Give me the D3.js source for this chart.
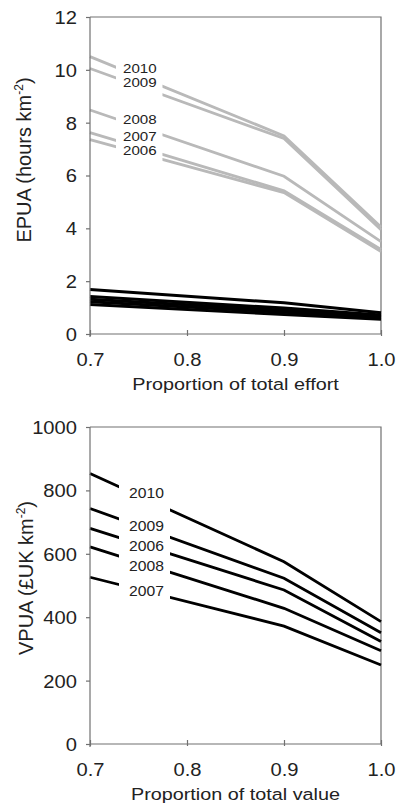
<!DOCTYPE html>
<html>
<head>
<meta charset="utf-8">
<script src="https://cdn.jsdelivr.net/npm/d3@7"></script>
<style>
  body { margin: 0; background: #fff; }
  svg { display: block; font-family: "Liberation Sans", Arial, sans-serif; }
  .tick text { fill: #222; }
</style>
</head>
<body>
<div id="chart"></div>
<script>
// proportions on the x axis
const xValues = [0.7, 0.9, 1.0];

// top panel: EPUA (hours km-2)
const effortYears = ["2010", "2009", "2008", "2007", "2006"];
const effortGrey = [
  [10.5, 7.5, 4.05],
  [10.05, 7.4, 3.95],
  [8.48, 5.97, 3.5],
  [7.62, 5.42, 3.2],
  [7.36, 5.35, 3.12]
];
const effortBlack = [
  [1.68, 1.18, 0.80],
  [1.42, 0.98, 0.72],
  [1.32, 0.90, 0.66],
  [1.22, 0.82, 0.62],
  [1.12, 0.74, 0.56]
];
const effortLabelAt = [9.89, 9.34, 7.95, 7.32, 6.78];
const effortTicks = [0, 2, 4, 6, 8, 10, 12];

// bottom panel: VPUA (£UK km-2)
const valueYears = ["2010", "2009", "2006", "2008", "2007"];
const valueLines = [
  [853, 575, 386],
  [743, 523, 351],
  [680, 486, 323],
  [622, 428, 294],
  [526, 372, 249]
];
const valueLabelAt = [775, 673, 610, 546, 468];
const valueTicks = [0, 200, 400, 600, 800, 1000];
const xTicks = [0.7, 0.8, 0.9, 1.0];

const W = 396, H = 809;
const left = 90, right = 381;
const axisColor = "#707070";

const svg = d3.select("#chart").append("svg")
  .attr("width", W)
  .attr("height", H);

const x = d3.scaleLinear().domain([0.7, 1.0]).range([left, right]);

function stretch(sel, s) {
  sel.attr("x", function() { return (+this.getAttribute("x") || 0) / s; })
    .attr("transform", "scale(" + s + ",1)");
}

function drawPanel(opt) {
  const y = d3.scaleLinear().domain(opt.yDomain).range([opt.bottom, opt.top]);
  const g = svg.append("g");

  // frame top + right
  g.append("path")
    .attr("d", "M" + left + "," + opt.top + "H" + right + "V" + opt.bottom)
    .attr("fill", "none")
    .attr("stroke", axisColor)
    .attr("stroke-width", 1.2);

  // clip out the label gap
  const clipId = "gap-" + opt.id;
  const clip = svg.append("clipPath").attr("id", clipId);
  clip.append("rect")
    .attr("x", 0).attr("y", 0)
    .attr("width", x(opt.gap[0]))
    .attr("height", H);
  clip.append("rect")
    .attr("x", x(opt.gap[1])).attr("y", 0)
    .attr("width", W - x(opt.gap[1]))
    .attr("height", H);

  const line = d3.line()
    .x(function(d, i) { return x(xValues[i]); })
    .y(function(d) { return y(d); });

  if (opt.plain) {
    g.selectAll(".plain")
      .data(opt.plain)
      .enter()
      .append("path")
      .attr("class", "plain")
      .attr("fill", "none")
      .attr("stroke", opt.plainColor)
      .attr("stroke-width", 3)
      .attr("d", line);
  }

  g.selectAll(".series")
    .data(opt.series)
    .enter()
    .append("path")
    .attr("class", "series")
    .attr("clip-path", "url(#" + clipId + ")")
    .attr("fill", "none")
    .attr("stroke", opt.color)
    .attr("stroke-width", 2.8)
    .attr("d", line);

  const lab = g.selectAll(".yr")
    .data(opt.years)
    .enter()
    .append("text")
    .attr("class", "yr")
    .attr("x", opt.labelX)
    .attr("y", function(d, i) { return y(opt.labelAt[i]); })
    .attr("font-size", opt.labelSize)
    .attr("fill", "#222")
    .text(function(d) { return d; });
  stretch(lab, 1.12);

  // axes
  const yAxis = g.append("g")
    .attr("transform", "translate(" + left + ",0)")
    .call(d3.axisLeft(y).tickValues(opt.ticks).tickFormat(d3.format("d"))
      .tickSize(4).tickPadding(9));
  yAxis.select(".domain").attr("stroke", axisColor).attr("stroke-width", 1.2)
    .attr("d", "M0," + opt.top + "V" + (opt.bottom + 3));
  yAxis.selectAll(".tick line").attr("stroke", axisColor).attr("stroke-width", 1.2);
  const yt = yAxis.selectAll(".tick text")
    .attr("font-size", 18)
    .attr("dy", "0.36em");
  stretch(yt, 1.12);

  const xAxis = g.append("g")
    .attr("transform", "translate(0," + opt.bottom + ")")
    .call(d3.axisBottom(x).tickValues(xTicks).tickFormat(d3.format(".1f")).tickSize(0));
  xAxis.select(".domain").attr("stroke", axisColor).attr("stroke-width", 1.2)
    .attr("d", "M" + left + ",0H" + right);
  xAxis.selectAll(".tick line")
    .attr("stroke", axisColor).attr("stroke-width", 1.2)
    .attr("y1", -4).attr("y2", 2);
  const xt = xAxis.selectAll(".tick text")
    .attr("font-size", 18)
    .attr("y", 32)
    .attr("dy", 0);
  stretch(xt, 1.12);

  // titles
  g.append("text")
    .attr("x", (left + right) / 2 / 1.2)
    .attr("y", opt.bottom + 56)
    .attr("transform", "scale(1.2,1)")
    .attr("text-anchor", "middle")
    .attr("font-size", 16.5)
    .attr("fill", "#222")
    .text(opt.xTitle);

  const yt2 = g.append("text")
    .attr("transform", "translate(" + opt.yTitleX + "," + opt.yTitleY + ") rotate(-90)")
    .attr("text-anchor", "middle")
    .attr("font-size", 20)
    .attr("fill", "#222");
  yt2.append("tspan").text(opt.yTitle);
  yt2.append("tspan").attr("font-size", 12).attr("dy", -8).text("-2");
  yt2.append("tspan").attr("dy", 8).text(")");
}

drawPanel({
  id: "effort",
  top: 17, bottom: 334,
  yDomain: [0, 12],
  ticks: effortTicks,
  series: effortGrey,
  color: "#b9b9b9",
  plain: effortBlack,
  plainColor: "#000",
  years: effortYears,
  labelAt: effortLabelAt,
  labelX: 123,
  labelSize: 13.5,
  gap: [0.7268, 0.7747],
  xTitle: "Proportion of total effort",
  yTitle: "EPUA (hours km",
  yTitleX: 31, yTitleY: 160
});

drawPanel({
  id: "value",
  top: 427, bottom: 744,
  yDomain: [0, 1000],
  ticks: valueTicks,
  series: valueLines,
  color: "#000",
  years: valueYears,
  labelAt: valueLabelAt,
  labelX: 129,
  labelSize: 14,
  gap: [0.7299, 0.7825],
  xTitle: "Proportion of total value",
  yTitle: "VPUA (£UK km",
  yTitleX: 33, yTitleY: 578
});
</script>
</body>
</html>
